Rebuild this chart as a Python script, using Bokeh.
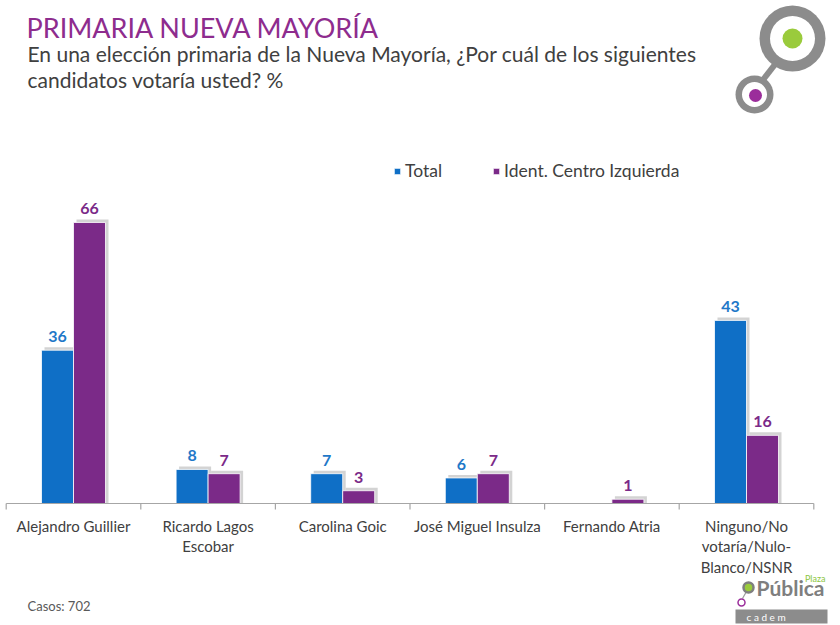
from bokeh.plotting import figure
from bokeh.models import Range1d, Legend, LegendItem, Label, ColumnDataSource
from bokeh.embed import file_html
from bokeh.resources import INLINE
from bokeh.core.properties import value

# ---------------- data ----------------
categories = ["Alejandro Guillier", "Ricardo Lagos\nEscobar", "Carolina Goic",
              "José Miguel Insulza", "Fernando Atria", "Ninguno/No\nvotaría/Nulo-\nBlanco/NSNR"]
total = [36, 8, 7, 6, None, 43]
centro_izq = [66, 7, 3, 7, 1, 16]
series_names = ["Total", "Ident. Centro Izquierda"]
title_text = "PRIMARIA NUEVA MAYORÍA"
subtitle_lines = ["En una elección primaria de la Nueva Mayoría, ¿Por cuál de los siguientes",
                  "candidatos votaría usted? %"]
note_text = "Casos: 702"

# ---------------- geometry ----------------
W, H = 840, 625
OFF = 0           # canvas origin on the page
SLOT = 134.6      # px per category slot
PPU = 4.258       # px per percentage point
X0 = -(73 - OFF) / SLOT
X1 = X0 + W / SLOT
Y1 = (503 - OFF) / PPU
Y0 = Y1 - H / PPU
BW = 32 / SLOT

def px(xp):
    return X0 + (xp - OFF) / SLOT

def py(yp):
    return Y1 - (yp - OFF) / PPU

BLUE = "#0f6fc6"
PURPLE = "#7b2a88"
BLUE_TXT = "#1f78c8"
PURPLE_TXT = "#7b2a88"
GREY_TXT = "#404040"
FONT = "Lato"

p = figure(width=W, height=H, x_range=Range1d(X0, X1), y_range=Range1d(Y0, Y1),
           min_border=0, toolbar_location=None, output_backend="svg",
           x_axis_location=None, y_axis_location=None)
p.grid.visible = False
p.outline_line_color = None
p.background_fill_color = "white"
p.border_fill_color = "white"

idx = list(range(len(categories)))
t_idx = [i for i in idx if total[i] is not None]
t_val = [total[i] for i in t_idx]

src_t = ColumnDataSource(dict(x=[i - BW / 2 for i in t_idx], top=t_val,
                              sx=[i - BW / 2 + 3 / SLOT for i in t_idx],
                              stop=[v + 3 / PPU for v in t_val],
                              lbl=[str(v) for v in t_val]))
src_c = ColumnDataSource(dict(x=[i + BW / 2 for i in idx], top=centro_izq,
                              sx=[i + BW / 2 + 3 / SLOT for i in idx],
                              stop=[v + 3 / PPU for v in centro_izq],
                              lbl=[str(v) for v in centro_izq]))

# shadows
for s in (src_t, src_c):
    p.vbar(x="sx", top="stop", bottom=0, width=BW, source=s,
           fill_color="#c4c4c4", fill_alpha=0.75, line_color=None)

r_t = p.vbar(x="x", top="top", bottom=0, width=BW, source=src_t,
             fill_color=BLUE, line_color="white", line_width=0.8)
r_c = p.vbar(x="x", top="top", bottom=0, width=BW, source=src_c,
             fill_color=PURPLE, line_color="white", line_width=0.8)

p.text(x="x", y="top", text="lbl", source=src_t, text_align="center",
       text_baseline="bottom", y_offset=-8, text_color=BLUE_TXT,
       text_font=value(FONT), text_font_style="bold", text_font_size="16px")
p.text(x="x", y="top", text="lbl", source=src_c, text_align="center",
       text_baseline="bottom", y_offset=-8, text_color=PURPLE_TXT,
       text_font=value(FONT), text_font_style="bold", text_font_size="16px")

# category axis
p.segment(x0=[-0.5], y0=[0], x1=[len(categories) - 0.5], y1=[0],
          line_color="#a6a6a6", line_width=1.2)
bounds = [k - 0.5 for k in range(len(categories) + 1)]
p.segment(x0=bounds, y0=[0] * len(bounds), x1=bounds, y1=[-6 / PPU] * len(bounds),
          line_color="#a6a6a6", line_width=1.2)
p.text(x=idx, y=[py(516)] * len(idx), text=categories, text_align="center",
       text_baseline="top", text_color=GREY_TXT, text_font=value(FONT),
       text_font_size="15px", text_line_height=1.15)

# legend
legend = Legend(items=[LegendItem(label=series_names[0], renderers=[r_t]),
                       LegendItem(label=series_names[1], renderers=[r_c])],
                location=(393 - OFF, H - (181 - OFF)), orientation="horizontal",
                glyph_width=8, glyph_height=8, label_standoff=4, spacing=50,
                padding=0, margin=0, border_line_color=None,
                background_fill_alpha=0, label_text_font=FONT,
                label_text_font_size="17.5px", label_text_color=GREY_TXT)
p.add_layout(legend)

# titles
p.add_layout(Label(x=px(26), y=py(26.5), text=title_text, text_font=FONT,
                   text_font_size="27px", text_color="#8e2c8e",
                   text_baseline="alphabetic"))
p.add_layout(Label(x=px(27), y=py(52.5), text=subtitle_lines[0], text_font=FONT,
                   text_font_size="21px", text_color=GREY_TXT,
                   text_baseline="alphabetic"))
p.add_layout(Label(x=px(27), y=py(78.5), text=subtitle_lines[1], text_font=FONT,
                   text_font_size="21px", text_color=GREY_TXT,
                   text_baseline="alphabetic"))
p.add_layout(Label(x=px(27), y=py(605), text=note_text, text_font=FONT,
                   text_font_size="13px", text_color="#595959",
                   text_baseline="alphabetic"))

# top-right logo
p.segment(x0=[px(762)], y0=[py(80)], x1=[px(776)], y1=[py(62)],
          line_color="#8c8c8c", line_width=6)
p.scatter(x=[px(792), px(754)], y=[py(38), py(94)], size=[66, 38],
          marker="circle", fill_color="#8c8c8c", line_color=None)
p.scatter(x=[px(792), px(754)], y=[py(38), py(94)], size=[45, 25],
          marker="circle", fill_color="white", line_color=None)
p.scatter(x=[px(792)], y=[py(38)], size=20, marker="circle",
          fill_color="#9acb3c", line_color=None)
p.scatter(x=[px(755)], y=[py(95)], size=13, marker="circle",
          fill_color="#9b2d9b", line_color=None)

# bottom-right logo
p.segment(x0=[px(742)], y0=[py(598)], x1=[px(746)], y1=[py(591)],
          line_color="#9b9b9b", line_width=1.2)
p.scatter(x=[px(748)], y=[py(587)], size=10, marker="circle",
          fill_color="#9acb3c", line_color="#7f7f7f", line_width=2.5)
p.scatter(x=[px(741)], y=[py(602)], size=7, marker="circle",
          fill_color="white", line_color="#9b2d9b", line_width=1.5)
p.add_layout(Label(x=px(824), y=py(587), text="Pública", text_font=FONT,
                   text_font_style="bold", text_font_size="21px",
                   text_color="#7f7f7f", text_baseline="alphabetic",
                   text_align="right"))
p.add_layout(Label(x=px(825), y=py(578), text="Plaza", text_font=FONT,
                   text_font_size="9px", text_color="#8dc63f",
                   text_align="right", text_baseline="alphabetic"))
p.quad(left=[px(735)], right=[px(827)], bottom=[py(623)], top=[py(609)],
       fill_color="#8c8c8c", line_color=None)
p.add_layout(Label(x=px(781), y=py(616), text="c    a    d    e    m", text_font=FONT,
                   text_font_size="10px", text_color="white",
                   text_align="center", text_baseline="middle"))

open("out.html", "w").write(file_html(p, INLINE))
